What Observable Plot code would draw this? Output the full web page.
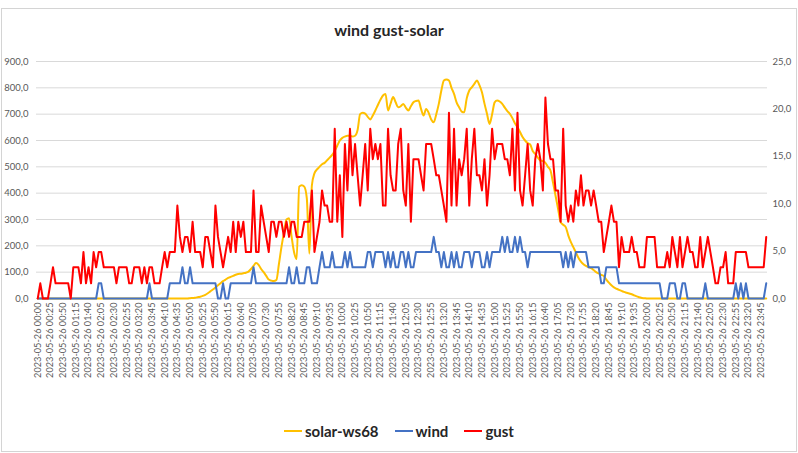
<!DOCTYPE html>
<html>
<head>
<meta charset="utf-8">
<script src="https://cdn.jsdelivr.net/npm/d3@7"></script>
<script src="https://cdn.jsdelivr.net/npm/@observablehq/plot@0.6"></script>
<style>
  html, body { margin: 0; padding: 0; background: #fff; }
  body { width: 798px; height: 453px; position: relative; overflow: hidden;
         font-family: Lato, "Liberation Sans", sans-serif; }
  #frame { position: absolute; left: 1px; top: 8px; width: 794px; height: 442px; border: 1px solid #d4d4d4; }
  #title { position: absolute; left: 0; top: 20px; width: 778px; text-align: center;
           font-size: 16px; font-weight: bold; color: #262626; }
  #chart { position: absolute; left: 0; top: 50px; }
  #legend { position: absolute; left: 0; top: 422px; width: 798px; display: flex; justify-content: center;
            gap: 16px; font-size: 15px; font-weight: bold; color: #262626; }
  .item { display: flex; align-items: center; gap: 3px; }
  .sw { width: 18px; height: 2px; display: inline-block; }
</style>
</head>
<body>
<div id="frame"></div>
<div id="title">wind gust-solar</div>
<div id="chart"></div>
<div id="legend"></div>
<script>
// Series names and colours
const seriesNames = ["solar-ws68", "wind", "gust"];
const seriesColors = ["#FFC000", "#4472C4", "#FF0000"];

// Left-axis ticks (solar) and right-axis ticks (wind / gust)
const leftTicks = [0, 100, 200, 300, 400, 500, 600, 700, 800, 900];
const rightTicks = [0, 5, 10, 15, 20, 25];

// solar-ws68 (left axis), one value per 5 minutes, 00:00 .. 23:55
const solar = [
  0,0,0,0,0,0,0,0,0,0, 0,0,0,0,0,0,0,0,0,0, 0,0,0,0,0,0,0,0,0,0,
  0,0,0,0,0,0,0,0,0,0, 0,0,0,0,0,0,0,0,0,0, 0,0,0,0,0,0,0,0,0,0,
  1,2,3,5,7,10,14,20,27,34,
  42,50,58,66,72,78,82,86,90,93,
  94,96,98,102,112,124,135,128,112,100,
  86,72,68,66,70,130,195,250,300,305,
  235,175,150,425,430,425,380,170,430,475,
  490,500,510,515,525,535,545,560,580,600,
  610,615,618,618,615,618,640,700,705,702,
  690,680,695,714,735,755,771,777,714,740,
  765,745,726,730,739,725,714,730,745,750,
  752,720,695,720,705,680,669,700,739,790,
  828,832,828,800,777,745,726,710,707,760,
  790,802,815,828,810,783,740,701,663,700,
  745,752,748,739,725,712,701,685,665,650,
  632,613,600,590,585,560,549,535,524,522,
  515,500,486,440,390,340,290,280,271,240,
  215,195,175,155,140,130,124,119,115,108,
  100,95,90,85,72,60,50,42,37,33,
  29,25,22,19,16,12,8,5,2,1,
  0,0,0,0,0,0,0,0,0,0, 0,0,0,0,0,0,0,0,0,0, 0,0,0,0,0,0,0,0,0,0,
  0,0,0,0,0,0,0,0,0,0, 0,0,0,0,0,0,0,0
];

// wind (right axis)
const wind = [
  0,0,0,0,0,0,0,0,0,0,
  0,0,0,0,0,0,0,0,0,0,
  0,0,0,0,1.6,1.6,0,0,0,0,
  0,0,0,0,0,0,0,0,0,0,
  0,0,0,0,1.6,0,0,0,0,0,
  0,0,1.6,1.6,1.6,1.6,1.6,3.3,1.6,1.6,
  3.3,1.6,1.6,1.6,1.6,1.6,1.6,1.6,1.6,1.6,
  1.6,0,0,1.6,0,0,1.6,1.6,1.6,1.6,
  1.6,1.6,1.6,1.6,1.6,3.3,1.6,1.6,1.6,1.6,
  1.6,1.6,1.6,1.6,1.6,1.6,1.6,1.6,1.6,3.3,
  1.6,1.6,3.3,1.6,1.6,1.6,3.3,3.3,1.6,1.6,
  1.6,3.3,4.9,3.3,3.3,3.3,4.9,3.3,3.3,3.3,
  3.3,4.9,3.3,4.9,3.3,3.3,3.3,3.3,3.3,3.3,
  4.9,4.9,3.3,4.9,4.9,4.9,4.9,3.3,4.9,3.3,
  4.9,3.3,3.3,4.9,4.9,3.3,4.9,3.3,3.3,4.9,
  4.9,4.9,4.9,4.9,4.9,4.9,6.5,4.9,4.9,3.3,
  4.9,3.3,3.3,4.9,3.3,4.9,3.3,3.3,4.9,4.9,
  4.9,3.3,4.9,4.9,4.9,3.3,3.3,4.9,3.3,4.9,
  4.9,4.9,4.9,6.5,4.9,6.5,4.9,4.9,6.5,4.9,
  6.5,4.9,4.9,3.3,4.9,4.9,4.9,4.9,4.9,4.9,
  4.9,4.9,4.9,4.9,4.9,4.9,4.9,3.3,4.9,3.3,
  4.9,3.3,4.9,4.9,4.9,4.9,4.9,3.3,3.3,3.3,
  3.3,3.3,1.6,1.6,3.3,3.3,3.3,3.3,3.3,1.6,
  1.6,1.6,1.6,1.6,1.6,1.6,1.6,1.6,1.6,1.6,
  1.6,1.6,1.6,1.6,1.6,1.6,0,0,0,1.6,
  1.6,1.6,0,0,1.6,1.6,0,0,0,0,
  0,0,0,1.6,0,0,0,0,0,0,
  0,0,0,0,0,1.6,0,1.6,0,1.6,
  0,0,0,0,0,0,0,1.6
];

// gust (right axis)
const gust = [
  0,1.6,0,0,0,1.6,3.3,1.6,1.6,1.6,
  1.6,1.6,1.6,0,3.3,3.3,3.3,1.6,4.9,1.6,
  3.3,1.6,4.9,3.3,4.9,4.9,3.3,3.3,3.3,3.3,
  3.3,1.6,3.3,3.3,3.3,3.3,1.6,1.6,3.3,3.3,
  3.3,1.6,3.3,1.6,3.3,3.3,1.6,1.6,1.6,3.3,
  4.9,3.3,4.9,4.9,4.9,9.8,6.5,4.9,6.5,6.5,
  4.9,8.1,4.9,4.9,4.9,3.3,6.5,6.5,4.9,3.3,
  9.8,6.5,4.9,3.3,4.9,6.5,4.9,8.1,4.9,8.1,
  6.5,8.1,4.9,4.9,4.9,11.4,4.9,4.9,9.8,8.1,
  6.5,4.9,8.1,8.1,6.5,8.1,8.1,6.5,8.1,6.5,
  8.1,8.1,6.5,6.5,6.5,8.1,8.1,8.1,11.4,4.9,
  6.5,8.1,11.4,9.8,9.8,8.1,8.1,17.9,8.1,13.0,
  6.5,16.3,11.4,17.9,13.0,16.3,13.0,9.8,13.0,16.3,
  11.4,17.9,14.7,16.3,14.7,16.3,9.8,9.8,17.9,13.0,
  11.4,11.4,16.3,17.9,11.4,9.8,16.3,8.1,14.7,14.7,
  14.7,13.0,11.4,16.3,16.3,16.3,14.7,13.0,13.0,11.4,
  9.8,8.1,19.6,9.8,17.9,9.8,14.7,13.0,14.7,17.9,
  9.8,14.7,17.9,13.0,13.0,11.4,14.7,9.8,13.0,17.9,
  14.7,16.3,16.3,16.3,14.7,14.7,13.0,17.9,11.4,19.6,
  11.4,9.8,13.0,16.3,11.4,9.8,14.7,16.3,14.7,11.4,
  21.2,16.3,14.7,14.7,11.4,11.4,8.1,17.9,9.8,8.1,
  9.8,8.1,11.4,9.8,13.0,9.8,11.4,11.4,9.8,11.4,
  9.8,8.1,8.1,4.9,6.5,8.1,9.8,8.1,8.1,3.3,
  6.5,4.9,4.9,4.9,6.5,4.9,4.9,3.3,3.3,3.3,
  6.5,6.5,6.5,6.5,3.3,3.3,3.3,3.3,4.9,3.3,
  6.5,4.9,3.3,6.5,3.3,4.9,6.5,4.9,4.9,3.3,
  3.3,6.5,3.3,4.9,6.5,4.9,3.3,1.6,1.6,3.3,
  3.3,4.9,1.6,1.6,1.6,4.9,4.9,4.9,4.9,4.9,
  3.3,3.3,3.3,3.3,3.3,3.3,3.3,6.5
];

// Category axis: 5-minute timestamps of 2023-05-26
const startTime = Date.UTC(2023, 4, 26, 0, 0);
const times = d3.range(solar.length).map(i => new Date(startTime + i * 5 * 60000));
const fmt = d3.utcFormat("%Y-%m-%d %H:%M");
const labelIdx = d3.range(0, times.length, 5);

// Right axis (0..25) mapped onto the left scale (0..900)
const K = 900 / 25;
const rows = times.map((t, i) => ({ i, solar: solar[i], wind: wind[i] * K, gust: gust[i] * K }));
const comma = v => v.toFixed(1).replace(".", ",");

const chart = Plot.plot({
  width: 798,
  height: 360,
  marginTop: 11,
  marginBottom: 112,
  marginLeft: 36,
  marginRight: 31,
  style: { fontFamily: "Lato, 'Liberation Sans', sans-serif", fontSize: "9.5px", color: "#595959", background: "transparent" },
  x: { domain: [-0.5, times.length - 0.5] },
  y: { domain: [0, 900] },
  marks: [
    Plot.gridY(leftTicks, { stroke: "#d9d9d9", strokeOpacity: 1 }),
    Plot.axisY(leftTicks, { anchor: "left", tickSize: 0, tickPadding: 8, tickFormat: comma, label: null }),
    Plot.axisY(rightTicks.map(v => v * K), { anchor: "right", tickSize: 0, tickPadding: 5, tickFormat: d => comma(d / K), label: null }),
    Plot.axisX(labelIdx, { tickRotate: -90, tickSize: 0, tickPadding: 4, tickFormat: i => fmt(times[i]), label: null, fontSize: 9.2 }),
    Plot.line(rows, { x: "i", y: "solar", stroke: seriesColors[0], strokeWidth: 2, curve: "monotone-x" }),
    Plot.line(rows, { x: "i", y: "wind", stroke: seriesColors[1], strokeWidth: 2 }),
    Plot.line(rows, { x: "i", y: "gust", stroke: seriesColors[2], strokeWidth: 2 })
  ]
});
document.getElementById("chart").appendChild(chart);

const legend = document.getElementById("legend");
seriesNames.forEach((name, k) => {
  const it = document.createElement("div");
  it.className = "item";
  const sw = document.createElement("span");
  sw.className = "sw";
  sw.style.background = seriesColors[k];
  const tx = document.createElement("span");
  tx.textContent = name;
  it.appendChild(sw);
  it.appendChild(tx);
  legend.appendChild(it);
});
</script>
</body>
</html>
